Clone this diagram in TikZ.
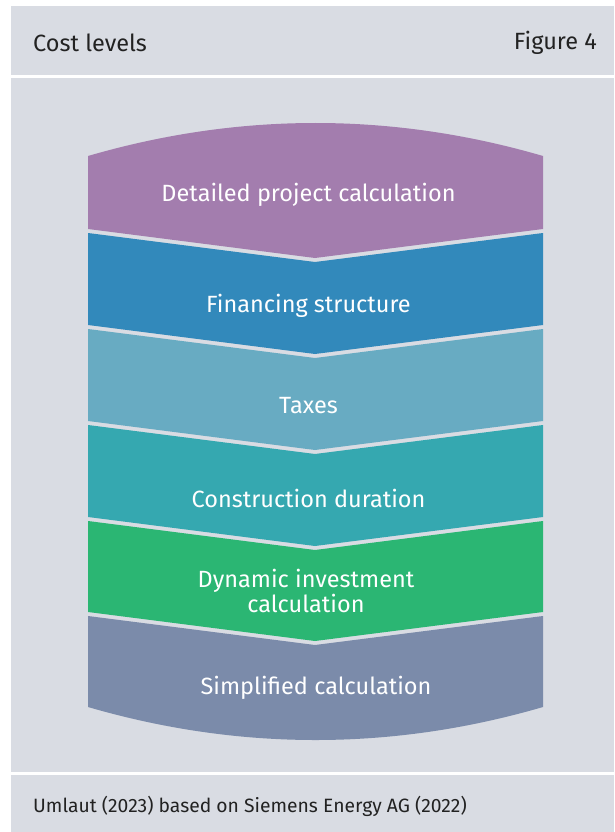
\documentclass[tikz,border=0pt]{standalone}
\usepackage{fontspec}
\setmainfont{Fira Sans}
\definecolor{bg}{HTML}{D9DCE3}
\definecolor{c1}{HTML}{A37DAE}
\definecolor{c2}{HTML}{3289BB}
\definecolor{c3}{HTML}{68ABC2}
\definecolor{c4}{HTML}{35A8B0}
\definecolor{c5}{HTML}{2BB673}
\definecolor{c6}{HTML}{7B8BAA}
\definecolor{ink}{HTML}{222222}
\tikzset{
  lbl/.style={text=white, font=\fontsize{23.5}{25}\selectfont, align=center, inner sep=0pt},
  hdr/.style={text=ink, font=\fontsize{23.5}{26}\selectfont, inner sep=0pt},
  ftr/.style={text=ink, font=\fontsize{19.3}{22}\selectfont, inner sep=0pt}
}
\begin{document}
\begin{tikzpicture}[x=1pt,y=-1pt]
\useasboundingbox (0,0) rectangle (614,832);
\fill[white] (0,0) rectangle (614,832);
\fill[bg] (11,6) rectangle (614,75);
\fill[bg] (11,78) rectangle (614,772);
\fill[bg] (11,775) rectangle (614,832);
% bands
\fill[c1] (88,156) .. controls (239,112) and (392,112) .. (543,156) -- (543,229) -- (315,258) -- (88,229) -- cycle;
\fill[c2] (88,233) -- (315,262) -- (543,233) -- (543,325) -- (315,354) -- (88,325) -- cycle;
\fill[c3] (88,329) -- (315,358) -- (543,329) -- (543,421) -- (315,450) -- (88,421) -- cycle;
\fill[c4] (88,425) -- (315,454) -- (543,425) -- (543,517) -- (315,546) -- (88,517) -- cycle;
\fill[c5] (88,521) -- (315,550) -- (543,521) -- (543,612) -- (315,641) -- (88,612) -- cycle;
\fill[c6] (88,616) -- (315,645) -- (543,616) -- (543,707) .. controls (392,751) and (239,751) .. (88,707) -- cycle;
% labels
\node[lbl] (l1) at (308.5,195) {Detailed project calculation};
\node[lbl] (l2) at (308.5,306) {Financing structure};
\node[lbl] (l3) at (308.5,406) {Taxes};
\node[lbl] (l4) at (308.5,498) {Construction duration};
\node[lbl] (l5) at (306,591) {Dynamic investment\\calculation};
\node[lbl] (l6) at (316,688) {Simplified calculation};
% header and footer
\node[hdr, anchor=west] (title) at (33,43) {Cost levels};
\node[hdr, anchor=east] (fig) at (597,43) {Figure 4};
\node[ftr, anchor=west] (src) at (33,806) {Umlaut (2023) based on Siemens Energy AG (2022)};
\end{tikzpicture}
\end{document}
